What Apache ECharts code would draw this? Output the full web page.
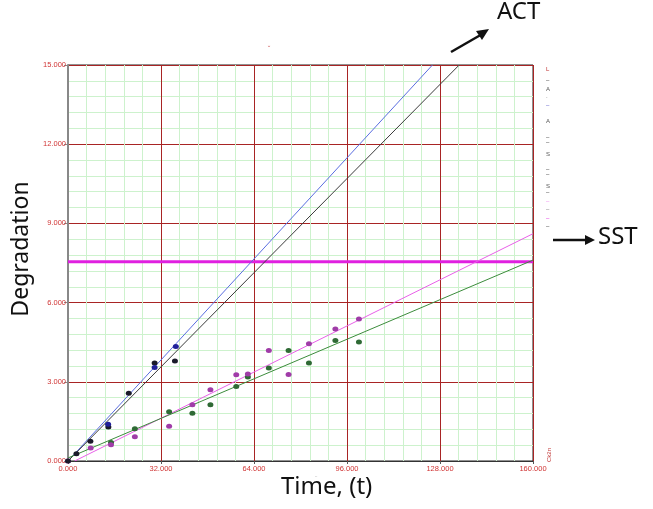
<!DOCTYPE html>
<html>
<head>
<meta charset="utf-8">
<script src="https://cdn.jsdelivr.net/npm/echarts@6/dist/echarts.min.js"></script>
<style>
  html, body { margin: 0; padding: 0; background: #fff; }
  #chart { width: 653px; height: 509px; }
</style>
</head>
<body>
<div id="chart"></div>
<script>
// Axis settings
const xTicks = [0, 32, 64, 96, 128, 160];
const yTicks = [0, 3, 6, 9, 12, 15];

// ACT measurements (time, degradation)
const actBlack = [[0, 0], [2.9, 0.27], [7.7, 0.75], [13.9, 1.29], [20.9, 2.57], [29.8, 3.71], [36.8, 3.79]];
const actBlue = [[13.8, 1.39], [29.8, 3.54], [37.1, 4.34]];

// SST measurements (time, degradation)
const sstGreen = [[14.8, 0.70], [23.0, 1.22], [34.8, 1.87], [42.8, 1.81], [49.0, 2.13], [57.9, 2.82],
  [61.9, 3.18], [69.1, 3.52], [75.9, 4.19], [82.9, 3.71], [92.0, 4.56], [100.1, 4.51]];
const sstMagenta = [[0, 0], [7.8, 0.49], [14.8, 0.62], [23.0, 0.92], [34.8, 1.32], [42.8, 2.13],
  [49.0, 2.70], [57.9, 3.27], [61.9, 3.30], [69.1, 4.19], [75.9, 3.28], [82.9, 4.44], [92.0, 5.00], [100.1, 5.38]];

// Fitted degradation paths
const fitBlue = [[0, 0], [125.4, 15]];
const fitBlack = [[0, 0], [134.6, 15]];
const fitMagenta = [[2.3, 0], [160, 8.61]];
const fitGreen = [[0, 0.115], [160, 7.61]];

// Threshold level
const threshold = 7.55;

const chart = echarts.init(document.getElementById('chart'), null, { renderer: 'canvas' });

function fmt(v) { return v.toFixed(3); }

const labelFont = { color: '#d03434', fontSize: 7.5, fontFamily: 'Liberation Sans' };

function scatter(data, color) {
  return {
    type: 'scatter', data: data, symbol: 'circle', symbolSize: [6, 5],
    itemStyle: { color: color, opacity: 1 }, z: 5, silent: true
  };
}
function fit(data, color) {
  return {
    type: 'line', data: data, symbol: 'none', clip: true,
    lineStyle: { color: color, width: 1 }, z: 4, silent: true
  };
}

// tiny clipped legend glyphs at the right edge
const legendGlyphs = [
  ['L', 70, '#c03434'], ['–', 81, '#333'], ['A', 90, '#555'], ['.', 97, '#555'],
  ['–', 106, '#5050c8'], ['A', 122, '#555'], ['–', 138, '#333'], ['–', 143, '#333'],
  ['S', 155, '#555'], ['–', 170, '#333'], ['–', 175, '#333'], ['S', 187, '#555'],
  ['–', 193, '#333'], ['–', 202, '#f080f0'], ['–', 210, '#777'], ['–', 219, '#e020e0'],
  ['–', 227, '#333']
];

const graphics = legendGlyphs.map(g => ({
  type: 'text', left: 546, top: g[1] - 4,
  style: { text: g[0], fill: g[2], fontSize: 6, fontFamily: 'Liberation Sans' }
}));

const bigFont = { fill: '#111', fontSize: 24, fontFamily: 'Noto Sans' };

graphics.push(
  { type: 'text', x: 552, y: 462, rotation: Math.PI / 2,
    style: { text: 'Ck2n', fill: '#c03434', fontSize: 6, fontFamily: 'Liberation Sans', textAlign: 'left', textVerticalAlign: 'bottom' } },
  // annotations
  { type: 'text', left: 497, top: 0, style: Object.assign({ text: 'ACT' }, bigFont) },
  { type: 'text', left: 598, top: 225, style: Object.assign({ text: 'SST' }, bigFont) },
  { type: 'text', left: 281, top: 475, style: Object.assign({ text: 'Time, (t)' }, bigFont) },
  { type: 'text', x: 21, y: 249, rotation: Math.PI / 2,
    style: Object.assign({ text: 'Degradation', textAlign: 'center', textVerticalAlign: 'middle' }, bigFont, { fontSize: 23 }) },
  { type: 'line', shape: { x1: 451, y1: 52, x2: 484, y2: 33 }, style: { stroke: '#111', lineWidth: 2.5 } },
  { type: 'polygon', shape: { points: [[489, 29], [476, 31], [482, 40]] }, style: { fill: '#111' } },
  { type: 'line', shape: { x1: 553, y1: 240, x2: 588, y2: 240 }, style: { stroke: '#111', lineWidth: 2.5 } },
  { type: 'polygon', shape: { points: [[595, 240], [585, 235], [585, 245]] }, style: { fill: '#111' } },
  { type: 'text', left: 268, top: 46, style: { text: '˘', fill: '#d06060', fontSize: 7 } },
  { type: 'text', left: 315, top: 476, style: { text: '¨', fill: '#999', fontSize: 7 } }
);

chart.setOption({
  animation: false,
  backgroundColor: '#fff',
  grid: {
    left: 68, top: 65, right: 120, bottom: 48, show: true, borderColor: '#222', borderWidth: 1,
    containLabel: false, outerBoundsMode: 'none'
  },
  xAxis: {
    type: 'value', min: xTicks[0], max: xTicks[xTicks.length - 1], interval: 32,
    axisLine: { show: true, lineStyle: { color: '#333', width: 1 } },
    axisTick: { show: true, length: 3, lineStyle: { color: '#555' } },
    axisLabel: Object.assign({ formatter: fmt, margin: 4 }, labelFont),
    splitLine: { show: true, lineStyle: { color: '#a82424', width: 1 } },
    minorTick: { show: false, splitNumber: 5 },
    minorSplitLine: { show: true, lineStyle: { color: '#cdf2cd', width: 1 } }
  },
  yAxis: {
    type: 'value', min: yTicks[0], max: yTicks[yTicks.length - 1], interval: 3,
    axisLine: { show: true, lineStyle: { color: '#888', width: 2 } },
    axisTick: { show: true, length: 4, lineStyle: { color: '#888' } },
    axisLabel: Object.assign({ formatter: fmt, margin: 2 }, labelFont),
    splitLine: { show: true, lineStyle: { color: '#a82424', width: 1 } },
    minorTick: { show: false, splitNumber: 5 },
    minorSplitLine: { show: true, lineStyle: { color: '#cdf2cd', width: 1 } }
  },
  series: [
    fit(fitBlue, '#5a6ee0'),
    fit(fitBlack, '#3a3a3a'),
    fit(fitMagenta, '#e860e8'),
    fit(fitGreen, '#3c8c3c'),
    {
      type: 'line', data: [[xTicks[0], threshold], [xTicks[xTicks.length - 1], threshold]],
      symbol: 'none', lineStyle: { color: '#e020e0', width: 3 }, z: 3, silent: true
    },
    scatter(sstGreen, '#2f6a35'),
    scatter(sstMagenta, '#a03ca8'),
    scatter(actBlack, '#1a1a2a'),
    scatter(actBlue, '#20209a')
  ],
  graphic: graphics
});
</script>
</body>
</html>
